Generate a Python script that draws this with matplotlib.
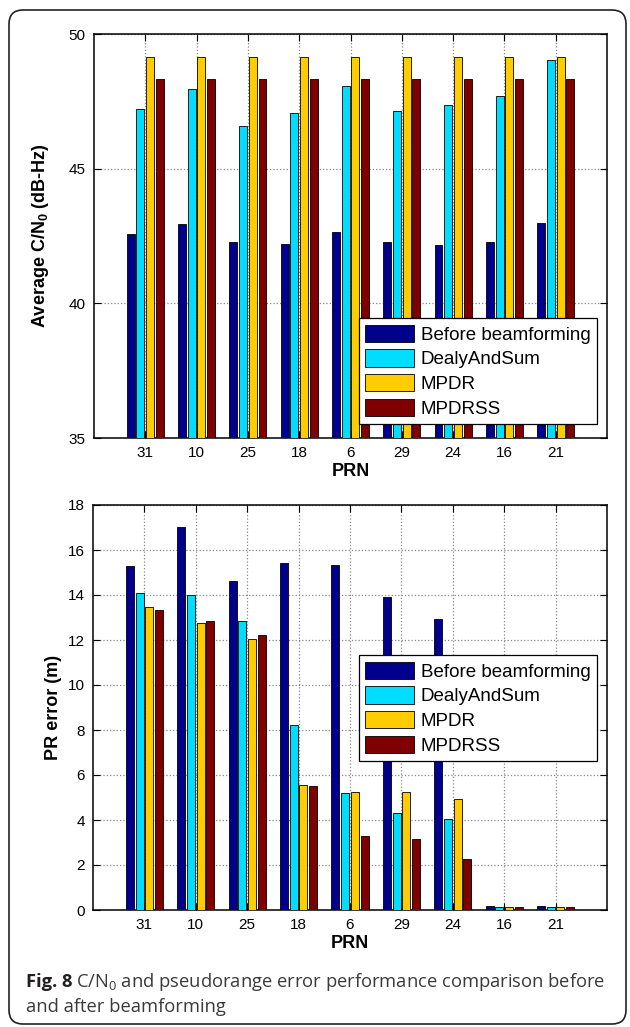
import matplotlib
matplotlib.use("Agg")
import matplotlib.pyplot as plt
import numpy as np
from matplotlib.patches import FancyBboxPatch

plt.rcParams['font.family'] = ['Liberation Sans', 'DejaVu Sans']
plt.rcParams['mathtext.default'] = 'regular'

prn = ['31', '10', '25', '18', '6', '29', '24', '16', '21']
series = ['Before beamforming', 'DealyAndSum', 'MPDR', 'MPDRSS']
colors = ['#00008c', '#00ddff', '#ffcc00', '#7f0000']

cn0_before = [42.56, 42.96, 42.28, 42.20, 42.64, 42.28, 42.15, 42.28, 43.00]
cn0_das = [47.20, 47.95, 46.59, 47.06, 48.07, 47.15, 47.36, 47.68, 49.03]
cn0_mpdr = [49.16, 49.16, 49.15, 49.16, 49.16, 49.16, 49.16, 49.16, 49.15]
cn0_mpdrss = [48.32, 48.32, 48.32, 48.32, 48.32, 48.32, 48.32, 48.32, 48.32]

pr_before = [15.28, 17.02, 14.64, 15.43, 15.34, 13.91, 12.93, 0.20, 0.20]
pr_das = [14.11, 14.02, 12.86, 8.21, 5.22, 4.32, 4.05, 0.14, 0.14]
pr_mpdr = [13.48, 12.75, 12.05, 5.57, 5.26, 5.26, 4.94, 0.14, 0.14]
pr_mpdrss = [13.32, 12.86, 12.24, 5.53, 3.31, 3.17, 2.27, 0.14, 0.14]

W, H = 630, 1027
fig = plt.figure(figsize=(W / 100, H / 100), dpi=100)

# rounded frame around the whole figure
bg = fig.add_axes([0, 0, 1, 1])
bg.set_xlim(0, W)
bg.set_ylim(H, 0)
bg.axis('off')
bg.add_patch(FancyBboxPatch((9, 10), 617, 1014, boxstyle="round,pad=0,rounding_size=14",
                            fc='white', ec='#222222', lw=1.2))


def px_axes(left, top, right, bottom):
    return fig.add_axes([left / W, 1 - bottom / H, (right - left) / W, (bottom - top) / H])


def draw(ax, data, ylim, yticks, ylabel, label_x, legend_top):
    x = np.arange(1, len(prn) + 1)
    for i, (vals, c, name) in enumerate(zip(data, colors, series)):
        ax.bar(x + (i - 1.5) * 0.19, np.array(vals) - ylim[0], bottom=ylim[0], width=0.155,
               color=c, edgecolor='black', linewidth=0.6, label=name, zorder=3)
    ax.set_xlim(0, 10)
    ax.set_ylim(*ylim)
    ax.set_xticks(x)
    ax.set_xticklabels(prn)
    ax.set_yticks(yticks)
    ax.grid(True, linestyle=':', color='#888888', linewidth=0.9, zorder=0)
    ax.set_axisbelow(True)
    ax.tick_params(direction='in', top=True, right=True, length=5, width=0.8,
                   labelsize=11, pad=6)
    for s in ax.spines.values():
        s.set_linewidth(1.1)
    ax.set_xlabel('PRN', fontsize=13, fontweight='bold', labelpad=2)
    ax.set_ylabel(ylabel, fontsize=13, fontweight='bold')
    ax.yaxis.set_label_coords(label_x, 0.5)
    leg = ax.legend(loc='upper right', bbox_to_anchor=(597 / W, 1 - legend_top / H),
                    bbox_transform=fig.transFigure, borderaxespad=0, fontsize=13.5,
                    handlelength=2.6, handleheight=1.05, handletextpad=0.35,
                    labelspacing=0.3, borderpad=0.35, fancybox=False, framealpha=1)
    leg.get_frame().set_edgecolor('black')
    leg.get_frame().set_linewidth(0.9)


ax1 = px_axes(94, 34, 607, 438)
draw(ax1, [cn0_before, cn0_das, cn0_mpdr, cn0_mpdrss], (35, 50), [35, 40, 45, 50],
     'Average C/N$_0$ (dB-Hz)', -0.083, 318)

ax2 = px_axes(93, 505, 607, 910)
draw(ax2, [pr_before, pr_das, pr_mpdr, pr_mpdrss], (0, 18), range(0, 19, 2),
     'PR error (m)', -0.061, 655)

# caption
cap_font = ['Open Sans', 'DejaVu Sans']
cap_size = 13.2
t = fig.text(26 / W, 1 - 982 / H, 'Fig. 8', fontsize=cap_size, fontweight='bold',
             family=cap_font, color='#231f20', va='center')
fig.canvas.draw()
bb = t.get_window_extent()
fig.text((bb.x1 + 4) / W, 1 - 982 / H,
         'C/N$_0$ and pseudorange error performance comparison before',
         fontsize=cap_size, family=cap_font, color='#3a3a3a', va='center')
fig.text(26 / W, 1 - 1007 / H, 'and after beamforming', fontsize=cap_size,
         family=cap_font, color='#3a3a3a', va='center')

fig.savefig('out.png', dpi=100)
